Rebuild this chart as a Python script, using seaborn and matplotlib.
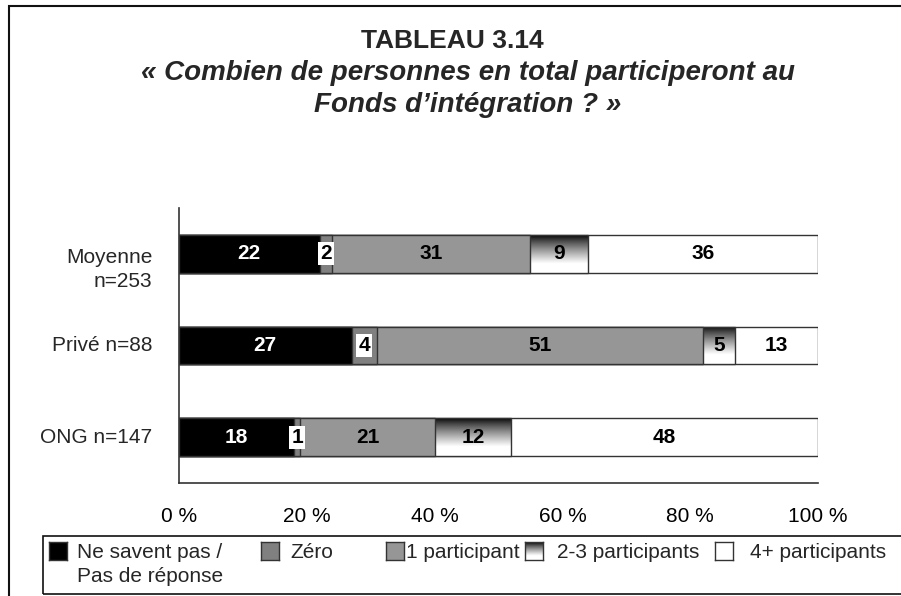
import numpy as np
import pandas as pd
import matplotlib
matplotlib.use("Agg")
import matplotlib.pyplot as plt
import matplotlib.transforms as mtransforms
from matplotlib.patches import Rectangle
import seaborn as sb

# DATA
# -----------------------------
groups = ["Moyenne\nn=253", "Privé n=88", "ONG n=147"]
series = ["Ne savent pas /\nPas de réponse", "Zéro", "1 participant",
          "2-3 participants", "4+ participants"]
ne_savent = [22, 27, 18]
zero = [2, 4, 1]
un_participant = [31, 51, 21]
deux_trois = [9, 5, 12]
quatre_plus = [36, 13, 48]
xticks = [0, 20, 40, 60, 80, 100]
xtick_labels = ["0 %", "20 %", "40 %", "60 %", "80 %", "100 %"]

colors = ["#000000", "#808080", "#969696", "gradient", "#ffffff"]
EDGE = "#333333"
W, H = 901, 596

sb.set_style("white")
plt.rcParams["font.family"] = ["Liberation Sans", "DejaVu Sans"]

df = pd.DataFrame({"groupe": groups, series[0]: ne_savent, series[1]: zero,
                   series[2]: un_participant, series[3]: deux_trois,
                   series[4]: quatre_plus})
cum = df[series].cumsum(axis=1)
cum["groupe"] = groups

# gradient used for the 2-3 participants series
t = np.linspace(0, 1, 128)
grad = (np.clip(t / 0.75, 0, 1) ** 0.8)[:, None]

fig = plt.figure(figsize=(W / 100, H / 100), dpi=100)
ax = fig.add_axes([179 / W, 1 - 483 / H, 639 / W, 275 / H])

# STACKED BARS (drawn from the total backwards)
# -----------------------------
for i in range(4, -1, -1):
    n0 = len(ax.patches)
    fc = "#ffffff" if colors[i] == "gradient" else colors[i]
    sb.barplot(data=cum, x=series[i], y="groupe", orient="h", color=fc,
               saturation=1, width=0.41, errorbar=None, edgecolor=EDGE,
               linewidth=1, ax=ax, zorder=20 - 2 * i)
    if colors[i] == "gradient":
        for p in ax.patches[n0:]:
            p.set_facecolor("none")
            x0, y0 = p.get_x(), p.get_y()
            im = ax.imshow(grad, cmap="gray", vmin=0, vmax=1, aspect="auto",
                           extent=(x0, x0 + p.get_width(), y0 + p.get_height(), y0),
                           origin="upper", interpolation="bilinear", zorder=20 - 2 * i - 1)
            im.set_clip_path(p)

ax.set_xlim(0, 100)
ax.set_ylim(2.5, -0.5)
ax.set_xlabel("")
ax.set_ylabel("")

# value labels
for i, s in enumerate(series):
    for j in range(len(groups)):
        v = df[s][j]
        xc = cum[s][j] - v / 2
        kw = {}
        if i == 1:
            kw["bbox"] = dict(facecolor="white", edgecolor="none", pad=1.5)
        ax.text(xc, j, str(v), ha="center", va="center", fontsize=15,
                fontweight="bold", color="white" if i == 0 else "black",
                zorder=30, **kw)

# AXES
# -----------------------------
ax.set_xticks(xticks)
ax.set_xticklabels(xtick_labels)
ax.tick_params(axis="x", direction="inout", length=9, width=1, pad=13,
               labelsize=15, color=EDGE, labelcolor="black")
ax.set_yticks([-0.5, 0.5, 1.5, 2.5])
ax.set_yticklabels([])
ax.tick_params(axis="y", direction="inout", length=12, width=1, color=EDGE)

# category labels: first line of a two-line label sits level with the bar
ylab_tr = mtransforms.blended_transform_factory(ax.transAxes, ax.transData)
for j, g in enumerate(groups):
    ax.text(-0.042, j + 0.17 * g.count("\n"), g, transform=ylab_tr,
            ha="right", va="center", fontsize=15, linespacing=1.28)

for side in ["top", "right"]:
    ax.spines[side].set_visible(False)
for side in ["left", "bottom"]:
    ax.spines[side].set_color(EDGE)
    ax.spines[side].set_linewidth(1.2)

# TITLE
# -----------------------------
fig.text(0.502, 1 - 41 / H, "TABLEAU 3.14", ha="center", va="center",
         fontsize=19, fontweight="bold")
fig.text(0.519, 1 - 89 / H,
         "« Combien de personnes en total participeront au\nFonds d’intégration ? »",
         ha="center", va="center", fontsize=20, fontweight="bold",
         style="italic", linespacing=1.26)

# FRAMES
# -----------------------------
fig.add_artist(Rectangle((9 / W, -0.1), 1.2, 1.1 - 6 / H, transform=fig.transFigure,
                         fill=False, edgecolor="#111111", linewidth=1.5))
fig.add_artist(Rectangle((43 / W, 1 - 594 / H), 1.0, 58 / H, transform=fig.transFigure,
                         fill=False, edgecolor="#111111", linewidth=1.2))

# LEGEND (drawn by hand)
# -----------------------------
sq_x = [49, 261, 386, 525, 715]
txt_x = [77, 290, 406, 557, 750]
for i, s in enumerate(series):
    lax = fig.add_axes([sq_x[i] / W, 1 - 560 / H, 18 / W, 18 / H])
    if colors[i] == "gradient":
        lax.imshow(grad, cmap="gray", vmin=0, vmax=1, aspect="auto",
                   interpolation="bilinear")
    else:
        lax.set_facecolor(colors[i])
    lax.set_xticks([])
    lax.set_yticks([])
    for sp in lax.spines.values():
        sp.set_color(EDGE)
        sp.set_linewidth(1)
    fig.text(txt_x[i] / W, 1 - 543 / H, s, ha="left", va="top",
             fontsize=15, linespacing=1.33)

fig.savefig("out.png", dpi=100)
